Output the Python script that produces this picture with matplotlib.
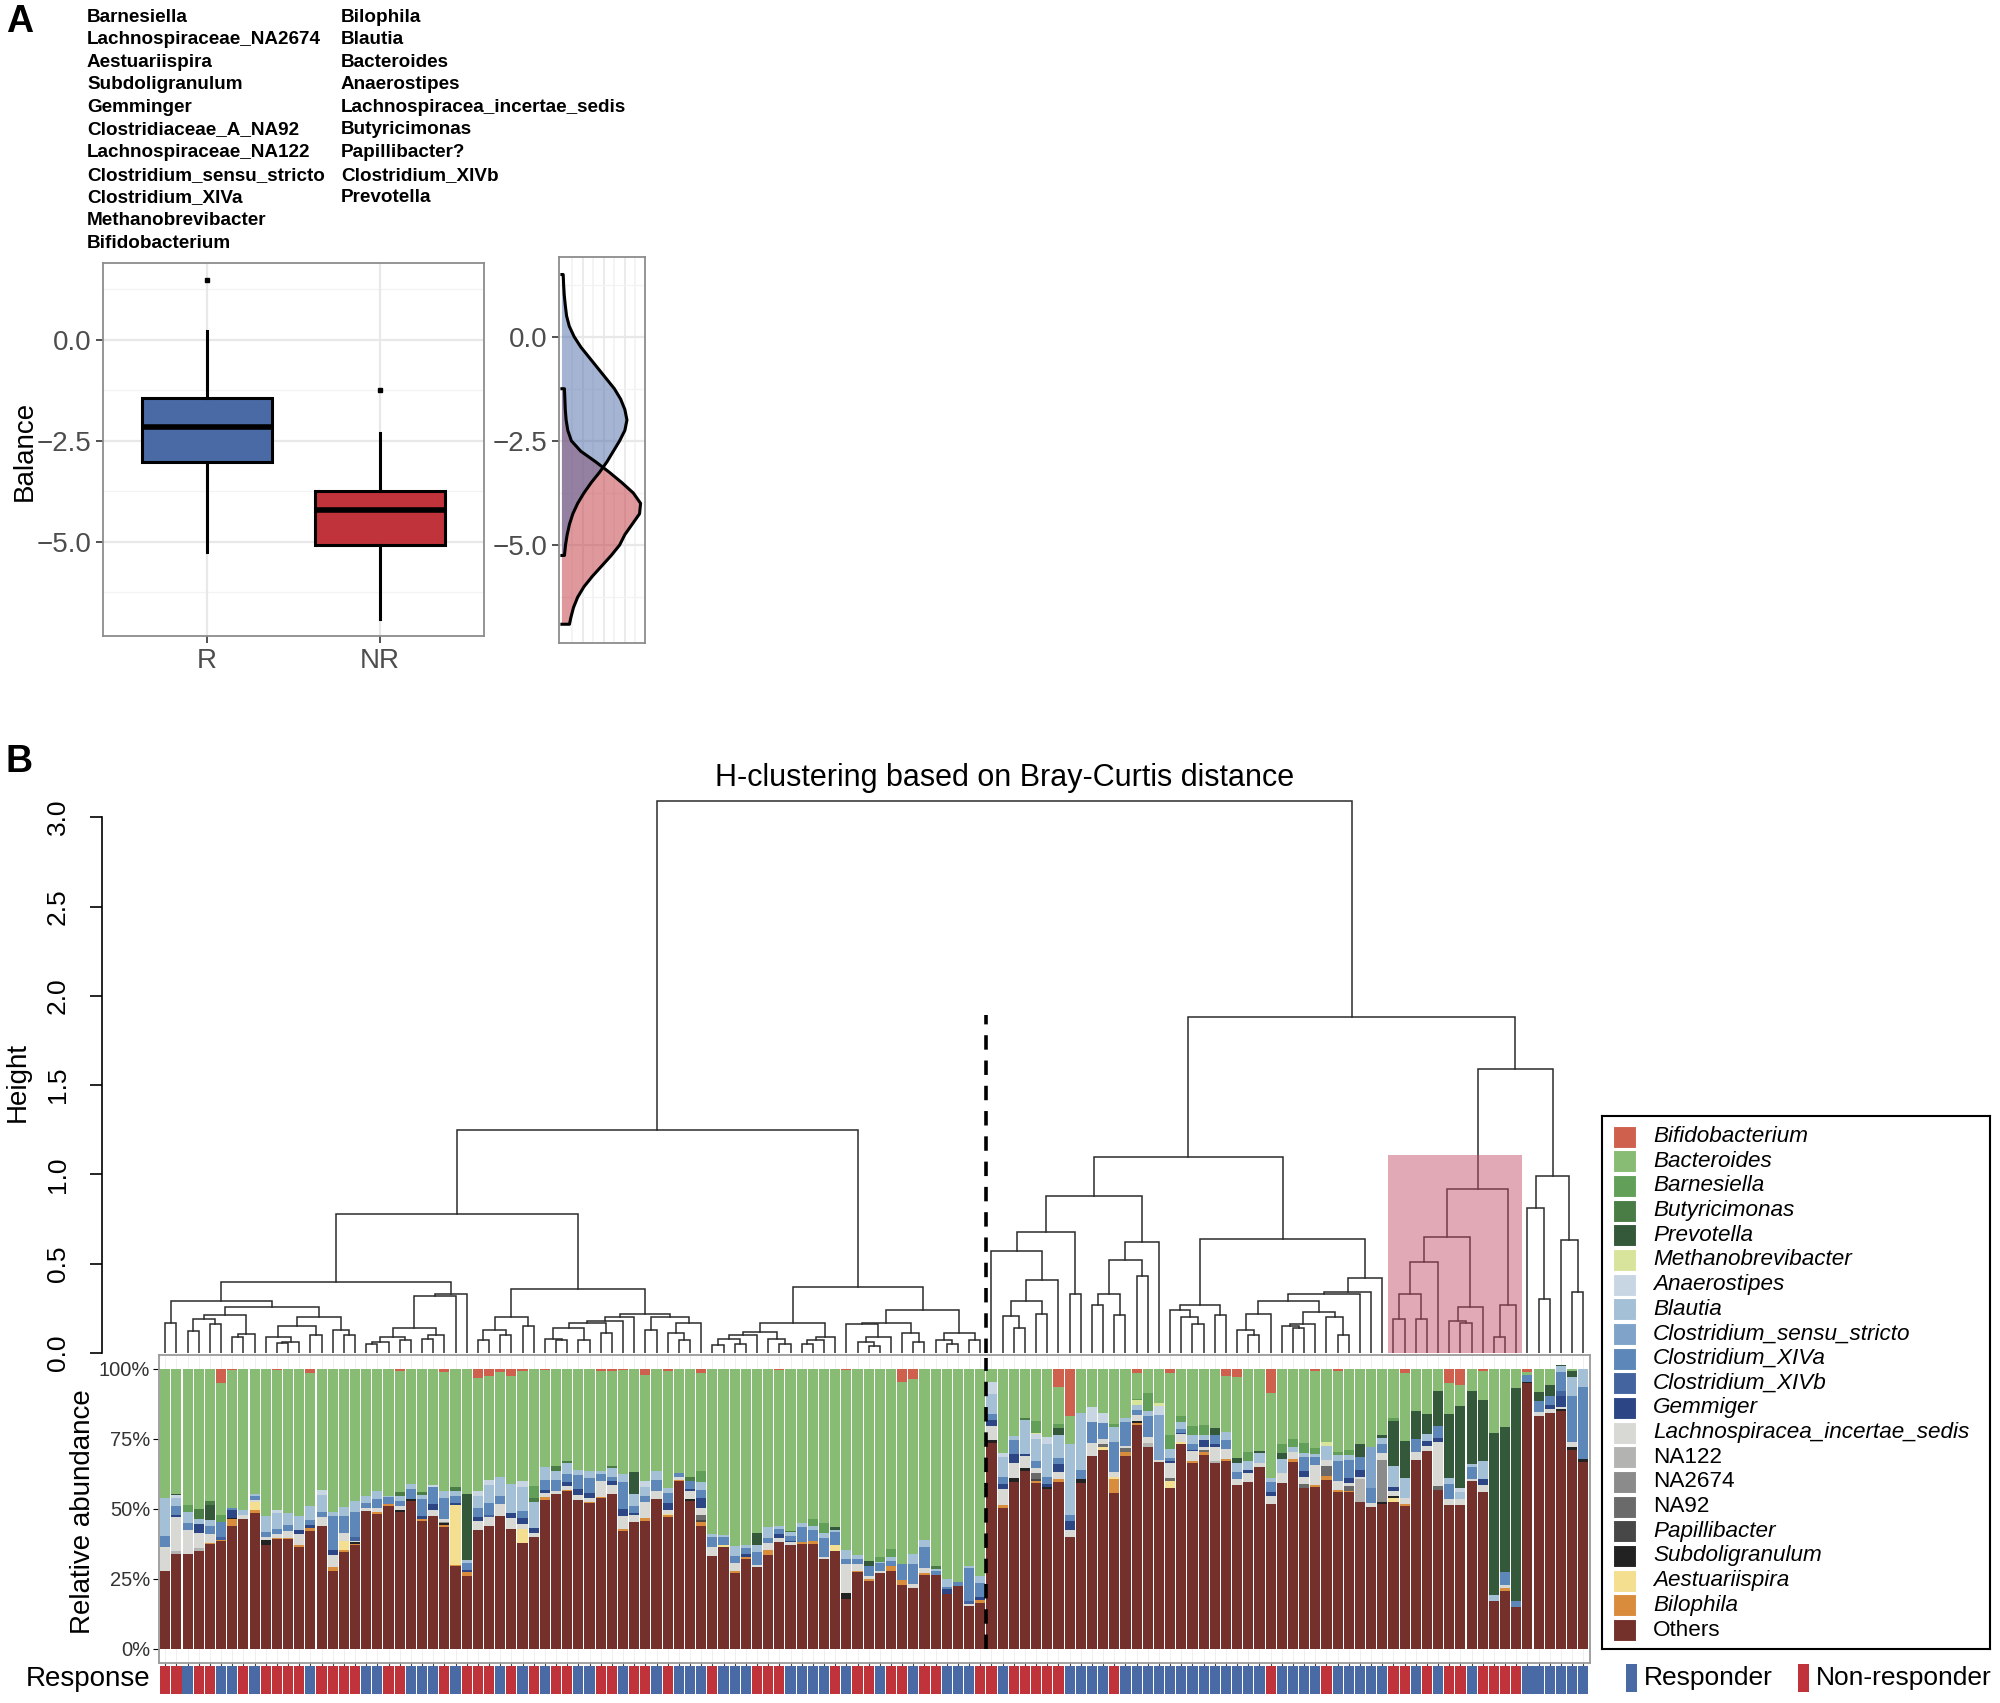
import numpy as np
import matplotlib
matplotlib.use("Agg")
import matplotlib.pyplot as plt
from matplotlib.patches import Rectangle

plt.rcParams["font.family"] = ["Liberation Sans", "DejaVu Sans"]

W, H = 2000, 1703

# ---------------- panel A data ----------------
balance_num = ["Barnesiella", "Lachnospiraceae_NA2674", "Aestuariispira", "Subdoligranulum",
               "Gemminger", "Clostridiaceae_A_NA92", "Lachnospiraceae_NA122",
               "Clostridium_sensu_stricto", "Clostridium_XIVa", "Methanobrevibacter",
               "Bifidobacterium"]
balance_den = ["Bilophila", "Blautia", "Bacteroides", "Anaerostipes",
               "Lachnospiracea_incertae_sedis", "Butyricimonas", "Papillibacter?",
               "Clostridium_XIVb", "Prevotella"]

groups = ["R", "NR"]
box_med = [-2.16, -4.22]
box_q1 = [-3.02, -5.09]
box_q3 = [-1.44, -3.75]
whisk_lo = [-5.25, -6.9]
whisk_hi = [0.21, -2.31]
outliers = [[1.49], [-1.25]]

dens_r_y = [1.49, 1.25, 1.0, 0.75, 0.5, 0.25, 0.0, -0.25, -0.5, -0.75, -1.0, -1.25, -1.5,
            -1.75, -2.0, -2.25, -2.5, -2.75, -3.0, -3.25, -3.5, -3.75, -4.0, -4.25, -4.5,
            -4.75, -5.0, -5.25]
dens_r = [0.006, 0.008, 0.011, 0.016, 0.022, 0.035, 0.058, 0.09, 0.13, 0.17, 0.21, 0.25, 0.28,
          0.30, 0.31, 0.30, 0.275, 0.245, 0.215, 0.18, 0.14, 0.105, 0.075, 0.052, 0.036,
          0.025, 0.017, 0.012]
dens_nr_y = [-1.25, -1.5, -1.75, -2.0, -2.25, -2.5, -2.75, -3.0, -3.25, -3.5, -3.75, -4.0,
             -4.25, -4.5, -4.75, -5.0, -5.25, -5.5, -5.75, -6.0, -6.25, -6.5, -6.75, -6.9]
dens_nr = [0.012, 0.014, 0.016, 0.02, 0.028, 0.045, 0.09, 0.16, 0.225, 0.285, 0.34, 0.375,
           0.37, 0.335, 0.30, 0.275, 0.235, 0.19, 0.145, 0.105, 0.075, 0.055, 0.042, 0.036]

# ---------------- panel B data ----------------
N = 128
# 1 = Responder, 0 = Non-responder
response = [0, 0, 1, 0, 0, 1, 1, 0, 1, 0, 0, 0, 0, 1, 0, 0,
            0, 0, 1, 1, 0, 0, 1, 1, 1, 0, 1, 0, 0, 0, 1, 0,
            1, 0, 1, 0, 0, 1, 1, 0, 0, 1, 0, 0, 1, 0, 1, 1,
            1, 0, 1, 1, 1, 0, 0, 0, 1, 1, 1, 1, 0, 1, 0, 0,
            1, 0, 0, 1, 0, 0, 1, 1, 1, 0, 0, 1, 0, 0, 0, 0,
            0, 1, 1, 1, 1, 0, 1, 1, 1, 1, 1, 1, 1, 1, 1, 1,
            1, 1, 1, 0, 1, 1, 1, 1, 0, 1, 1, 1, 1, 1, 0, 0,
            1, 0, 1, 0, 0, 1, 0, 0, 0, 0, 1, 1, 1, 1, 1, 1]

others = [28, 34, 34, 35, 37.5, 38.5, 44, 46.4, 48.5, 37, 39.3, 39.3, 36.5, 42, 43.8, 27.7,
          34.8, 37, 49.4, 48.2, 51.2, 48.8, 53, 45.6, 47.6, 43.5, 29.6, 26.2, 42.6, 44, 47.4, 42.9,
          37.9, 40.1, 53.2, 55.4, 56.3, 53.2, 52, 53.9, 55.4, 42.3, 45.5, 45.8, 53.6, 47, 59.9, 52.7,
          44, 33.1, 36.5, 27, 32.1, 29.4, 33.7, 38.3, 37.1, 37.5, 37.5, 32.1, 34.9, 17.9, 27.4, 24.2,
          27, 28, 22.9, 21.8, 26.5, 26.5, 19.6, 22.6, 15.2, 16.4, 73.6, 50.4, 59.5, 63.5, 59.2, 57.1,
          59.8, 40.1, 59.2, 68.8, 71.1, 55.6, 69, 80.1, 72, 66.7, 57.5, 73.2, 66.3, 69.4, 66.3, 67.3,
          58.7, 59.5, 65.1, 51.8, 59.2, 66.9, 57.5, 58, 60.4, 56, 56, 52.4, 50.6, 51.8, 52.4, 51.2,
          67.5, 70.6, 56.8, 51.5, 51.5, 59.9, 56, 17, 20.8, 15.1, 94.9, 83.3, 84.2, 84.9, 71.1, 66.7]

lachno = [8.5, 12, 8.5, 5.4, 3.2, 0, 0, 1.5, 0.8, 1, 1.4, 2.6, 3.8, 0, 3.4, 4.3,
          3, 0.6, 1, 1.5, 0, 1.5, 0, 0, 2.1, 1, 0, 0, 3.2, 3.2, 4.4, 3.9,
          1.8, 1.5, 1.2, 1.2, 1.5, 1.9, 1.4, 5.5, 3, 4.6, 2.5, 5.6, 3, 1.4, 1.2, 3,
          2.4, 3.2, 0, 2.6, 0, 0.7, 2.3, 1.3, 1, 0, 0, 0.8, 0, 10.5, 2.3, 1.2,
          1, 0, 0, 1.4, 1.9, 0, 0, 0, 1, 0, 5.1, 5.6, 5.6, 4.5, 2, 0,
          2.4, 2.4, 0, 4.6, 1.8, 1.8, 0.8, 1.8, 2.4, 0.8, 5.2, 2.7, 3.3, 1.2, 5, 3.6,
          2, 3.2, 1.2, 2.7, 3.8, 2.5, 2.7, 7.1, 2, 3.3, 1.2, 0.8, 1.4, 2.4, 2, 2.4,
          2.7, 2, 15.8, 2, 2, 0.8, 2.7, 0, 1.2, 0, 0, 1.2, 1.5, 0.6, 1.5, 0]

xiva = [4, 3, 2.4, 0, 3, 5.4, 0.7, 0, 1.2, 1.8, 1.8, 2, 0, 1.8, 1.9, 12,
        6, 9, 1.7, 3.2, 2.4, 1.8, 3.6, 6, 6.2, 7.7, 2.4, 2.4, 3.1, 4.3, 3, 0,
        2.6, 0, 3.6, 3.6, 3, 5.1, 5.2, 2.6, 1.7, 9.5, 2.4, 2.4, 3.8, 3.6, 1.4, 3,
        3, 3.6, 3, 2.6, 1.8, 4.4, 1.9, 1.8, 1.8, 5.4, 4, 6.7, 4.5, 1.8, 1.8, 3.6,
        2.6, 1.8, 5.7, 7.1, 7.4, 1.4, 0.8, 1.2, 11.7, 5, 2.4, 2.6, 5, 0, 2.4, 2.6,
        2.4, 2.4, 3.3, 7.5, 5.5, 10.7, 8.7, 1.8, 7.4, 0, 1, 1.2, 2.1, 0, 3, 3,
        2.4, 0, 0, 3.8, 0, 0, 4.8, 3, 0, 7.1, 6.5, 4.5, 5.5, 3.3, 0, 0,
        4.8, 0, 4.4, 5.6, 0, 4.2, 0, 0, 4.4, 2.1, 2.4, 4.2, 3.3, 7.1, 16.7, 25.8]

blautia = [13.5, 3, 4, 2, 1.8, 0, 0, 1.7, 1, 5.6, 5.6, 4.4, 5, 5, 6, 1.5,
           3, 4, 2.7, 3, 0.6, 1.8, 1.8, 1.7, 0, 2.4, 1.8, 1.2, 4.4, 6.2, 6.8, 10.5,
           8.6, 9.5, 4.5, 3.3, 3.8, 1.7, 2.4, 1.2, 3.1, 3, 4.5, 3.2, 3.3, 1.8, 0, 0,
           3, 1, 0.7, 3.6, 1.2, 2.7, 3.8, 1.2, 1.2, 1.2, 1.5, 1.7, 0.6, 3.2, 1.5, 0,
           0.4, 1.2, 0, 3.8, 2.6, 0.6, 2.7, 0, 0.6, 2.7, 6.9, 7.1, 1.5, 11.9, 7.9, 11.7,
           8, 25.2, 20.2, 0, 0, 5.4, 1.4, 1.8, 1.8, 0, 3.2, 2.4, 3.3, 1.9, 0, 3,
           3.2, 3.3, 3.6, 1.2, 5, 2, 1.5, 1.2, 5.1, 2, 1.8, 0, 0, 2.1, 7.4, 6.8,
           0, 2.4, 0, 1.9, 2.4, 1.2, 6.5, 2.4, 0, 0, 0, 0, 0, 1.8, 6.5, 6.5]

# sparse genera: {sample index: percent}
sensu = {89: 16.2, 108: 14.8}
xivb = {5: 1.0, 17: 1.2, 29: 0.8, 72: 1.0, 125: 1.5}
gemmiger = {1: 1, 3: 3.2, 6: 2.6, 12: 1.4, 13: 1.2, 15: 1.7, 23: 1, 24: 2, 26: 0.8, 27: 0.8,
            28: 1.4, 31: 1.7, 32: 2.1, 33: 1.5, 34: 1.2, 36: 1.2, 37: 2, 38: 1.9, 40: 1.5,
            41: 2.4, 42: 0.5, 45: 2.4, 47: 0.6, 48: 3.6, 52: 1.2, 55: 1.4, 56: 0.6, 70: 1.8,
            73: 1, 74: 2, 75: 1.8, 76: 3, 77: 0.8, 79: 1, 80: 2.7, 81: 3.1, 90: 1, 91: 0.6,
            92: 0.5, 93: 2.4, 94: 1, 97: 1.2, 99: 1.5, 102: 2, 106: 1.5, 107: 2.4, 110: 1.5,
            113: 1.8, 114: 1.2, 118: 2, 124: 1.4, 125: 4.2}
anaerostipes = {1: 1, 10: 1, 14: 1.7, 24: 0.7, 28: 1.8, 29: 1.8, 32: 2.1, 43: 2, 74: 4.2,
                75: 1.2, 78: 1.7, 79: 2.6, 83: 5.4, 84: 3.8, 89: 3.2, 116: 1.5}
methano = {78: 0.4, 87: 1.8, 89: 0.8, 104: 1.2}
prevotella = {1: 0.4, 4: 5.4, 27: 23.6, 42: 7.7, 53: 4.2, 60: 1.2, 63: 1.8, 80: 2.7, 94: 2.6,
              96: 1.9, 98: 0.7, 100: 1.9, 107: 4.8, 109: 1.2, 110: 16, 111: 13.5, 112: 10,
              113: 7.1, 114: 12.5, 115: 22.9, 116: 29.5, 117: 26, 118: 21.7, 119: 57.7,
              120: 51.8, 121: 76, 123: 3, 124: 3.8, 125: 0.6, 126: 2.4}
butyricimonas = {3: 3.5, 4: 1.4, 21: 1.2, 23: 1, 26: 1.4, 33: 1.4, 35: 2, 36: 0.8, 40: 0.8,
                 47: 1.2, 56: 0.6, 69: 1.2, 77: 0.7}
barnesiella = {2: 2.6, 5: 2.5, 33: 4.2, 48: 3.6, 58: 2.4, 59: 3.6, 64: 1.8, 65: 3, 78: 4.2,
               80: 1.2, 85: 1.2, 87: 0.6, 88: 6.5, 90: 4.8, 91: 2.4, 92: 3, 93: 3.6, 97: 3,
               100: 3.2, 101: 2.7, 102: 3.6, 103: 2, 105: 1.2, 106: 2, 110: 1.2}
bifido = {5: 5, 6: 0.4, 10: 0.4, 13: 1.5, 21: 0.8, 25: 1, 28: 3.2, 29: 2.4, 30: 1.2, 31: 2.4,
          32: 0.8, 34: 0.4, 39: 0.6, 40: 0.6, 41: 0.4, 43: 2, 45: 0.8, 48: 1.5, 55: 0.4,
          61: 0.3, 66: 4.8, 67: 3.6, 80: 6.3, 81: 16.7, 87: 1.4, 90: 1.5, 95: 2.4, 96: 2.7,
          99: 8.7, 103: 0.8, 105: 0.8, 111: 1.5, 115: 5.1, 116: 5.6, 118: 0.8, 122: 1.2}
bilophila = {4: 0.4, 5: 0.5, 6: 2.4, 8: 1, 10: 0.4, 11: 0.4, 12: 0.7, 13: 1.2, 15: 1.7,
             16: 0.5, 17: 0.5, 19: 0.6, 20: 0.6, 23: 0.8, 25: 0.7, 26: 0.4, 27: 1.2, 34: 1.2,
             36: 0.5, 38: 0.5, 39: 0.5, 41: 0.7, 43: 1, 45: 0.8, 46: 0.4, 48: 1.2, 51: 1,
             52: 0.8, 54: 1.8, 57: 0.8, 58: 1, 62: 0.5, 63: 0.8, 65: 1.8, 66: 1.8, 68: 0.5,
             73: 1, 75: 1.2, 78: 0.7, 80: 1, 85: 5.1, 86: 1.2, 87: 0.5, 92: 1, 93: 0.8,
             95: 0.6, 101: 0.8, 103: 0.5, 104: 1.5, 105: 0.8, 106: 0.5, 111: 0.5, 120: 1}
aestuariispira = {8: 3, 16: 3.3, 26: 21.5, 32: 5, 45: 0.4, 50: 0.6, 60: 2.4, 84: 1, 85: 0.6,
                  90: 2.6, 91: 0.8, 110: 1.4}
subdoli = {6: 0.5, 9: 2, 17: 0.6, 21: 0.8, 22: 0.5, 25: 0.7, 47: 0.8, 61: 2, 74: 1, 76: 1.5,
           77: 1, 79: 0.8, 82: 1.5, 87: 1, 109: 0.6, 110: 0.7, 122: 0.4, 125: 0.8, 126: 1.2,
           127: 1}
papillibacter = {48: 0.8, 78: 0.8}
na92 = {48: 1.8, 78: 2, 84: 1.2, 86: 1.5, 90: 1, 93: 0.8, 102: 1.4, 104: 3.6, 106: 1.7, 114: 1.5}
na2674 = {25: 0.5, 109: 15.1}
na122 = {1: 1, 3: 1, 88: 1.4, 94: 1, 107: 8.3}

# legend order (top of the stack first)
genera = ["Bifidobacterium", "Bacteroides", "Barnesiella", "Butyricimonas", "Prevotella",
          "Methanobrevibacter", "Anaerostipes", "Blautia", "Clostridium_sensu_stricto",
          "Clostridium_XIVa", "Clostridium_XIVb", "Gemmiger", "Lachnospiracea_incertae_sedis",
          "NA122", "NA2674", "NA92", "Papillibacter", "Subdoligranulum", "Aestuariispira",
          "Bilophila", "Others"]
genus_colors = ["#d0604e", "#88bb74", "#62a05a", "#4a7d46", "#33583a", "#d8e49c", "#c8d6e4",
                "#a4c0d7", "#7fa3c9", "#5c87b8", "#43649e", "#2c4585", "#d8d8d4", "#b3b3b1",
                "#8b8b8b", "#6a6a6a", "#474747", "#222222", "#f3df8f", "#d98c3c", "#74302a"]
upright = {"NA122", "NA2674", "NA92", "Others"}

# dendrogram: (height, left, right); ints are sample positions
A = (0.17, 0, 1)
BC = (0.19, (0.125, 2, 3), (0.165, 4, 5))
D = (0.105, (0.09, 6, 7), 8)
E = (0.20, (0.15, (0.09, 9, (0.06, (0.055, 10, 11), 12)), (0.10, 13, 14)),
     (0.13, 15, (0.10, 16, 17)))
F = (0.09, (0.06, (0.05, 18, 19), 20), (0.07, 21, 22))
G = (0.10, (0.08, 23, 24), 25)
L1 = (0.40, (0.29, A, (0.26, (0.21, BC, D), E)), (0.33, (0.32, (0.14, F, G), 26), 27))
M1 = (0.20, (0.13, (0.07, 28, 29), (0.10, 30, 31)), (0.15, 32, 33))
M2a = (0.14, (0.08, 34, (0.07, 35, 36)), (0.07, 37, 38))
M2d = (0.20, (0.18, (0.17, M2a, (0.11, 39, 40)), 41), 42)
M2e = (0.20, (0.13, 43, 44), (0.17, (0.11, 45, (0.07, 46, 47)), 48))
L2 = (0.36, M1, (0.22, M2d, M2e))
NN = (0.17, (0.115, (0.10, (0.08, (0.045, 49, 50), (0.05, 51, 52)), 53), (0.08, 54, (0.05, 55, 56))),
      (0.09, (0.07, (0.05, 57, 58), 59), 60))
OO = (0.24, (0.17, (0.16, 61, (0.09, (0.06, 62, (0.04, 63, 64)), 65)), (0.11, 66, (0.06, 67, 68))),
      (0.11, (0.07, 69, (0.05, 70, 71)), (0.07, 72, 73)))
LEFT = (1.25, (0.78, L1, L2), (0.37, NN, OO))
P = (0.68, (0.57, 74, (0.41, (0.29, (0.205, 75, (0.14, 76, 77)), (0.22, 78, 79)), 80)),
     (0.33, 81, 82))
Q = (0.62, (0.52, (0.33, (0.27, 83, 84), (0.21, 85, 86)), (0.43, 87, 88)), 89)
R1 = (0.27, (0.24, 90, (0.20, 91, (0.16, 92, 93))), (0.21, 94, 95))
R2a = (0.22, (0.13, 96, (0.10, 97, 98)), 99)
R2b = (0.23, (0.16, (0.15, 100, (0.14, 101, 102)), 103), (0.20, 104, (0.10, 105, 106)))
R2 = (0.42, (0.34, (0.33, (0.29, R2a, R2b), 107), 108), 109)
S = (0.92, (0.65, (0.51, (0.33, (0.19, 110, 111), (0.19, 112, 113)), 114),
            (0.26, (0.18, 115, (0.17, 116, 117)), 118)),
     (0.27, (0.09, 119, 120), 121))
T = (0.99, (0.81, 122, (0.30, 123, 124)), (0.63, 125, (0.34, 126, 127)))
RIGHT = (1.88, (1.10, (0.88, P, Q), (0.64, R1, R2)), (1.59, S, T))
TREE = (3.09, LEFT, RIGHT)

highlight_leaves = (109.5, 121.5)
highlight_height = 1.11
cut_position = 73.5
cut_height = 1.89

BLUE = "#4a6aa6"
RED = "#c1333b"


def dense(d):
    a = np.zeros(N)
    for k, v in d.items():
        a[k] = v
    return a


def px_axes(fig, x0, y0, x1, y1):
    return fig.add_axes([x0 / W, 1 - y1 / H, (x1 - x0) / W, (y1 - y0) / H])


def ftext(fig, x, y, s, **kw):
    return fig.text(x / W, 1 - y / H, s, **kw)


def draw_node(ax, node):
    if not isinstance(node, tuple):
        return float(node), 0.0
    h, a, b = node
    xa, ha = draw_node(ax, a)
    xb, hb = draw_node(ax, b)
    ax.plot([xa, xa, xb, xb], [ha, h, h, hb], color="#2b2b2b", lw=1.1,
            solid_joinstyle="miter", zorder=2)
    return (xa + xb) / 2.0, h


fig = plt.figure(figsize=(20, 17.03), dpi=100)
fig.patch.set_facecolor("white")

# ---------------- panel A ----------------
ftext(fig, 6, 22, "A", fontsize=27, fontweight="bold", ha="left", va="center")
for k, s in enumerate(balance_num):
    ftext(fig, 87, 17 + 22.6 * k, s, fontsize=13.6, fontweight="bold", ha="left", va="center")
for k, s in enumerate(balance_den):
    ftext(fig, 341, 17 + 22.6 * k, s, fontsize=13.6, fontweight="bold", ha="left", va="center")

axb = px_axes(fig, 103, 263, 484, 636)
axb.set_xlim(0.4, 2.6)
axb.set_ylim(-7.33, 1.9)
for y in [1.25, -1.25, -3.75, -6.25]:
    axb.axhline(y, color="#f3f3f3", lw=0.9, zorder=0)
for y in [0, -2.5, -5]:
    axb.axhline(y, color="#e8e8e8", lw=1.6, zorder=0)
for x in [1, 2]:
    axb.axvline(x, color="#e8e8e8", lw=1.6, zorder=0)
stats = []
for i in range(2):
    stats.append(dict(med=box_med[i], q1=box_q1[i], q3=box_q3[i], whislo=whisk_lo[i],
                      whishi=whisk_hi[i], fliers=outliers[i]))
bp = axb.bxp(stats, positions=[1, 2], widths=0.75, patch_artist=True, showcaps=False,
             boxprops=dict(lw=2.2, edgecolor="black"),
             medianprops=dict(color="black", lw=4),
             whiskerprops=dict(lw=2.2, color="black"),
             flierprops=dict(marker="s", markersize=3.5, markerfacecolor="black",
                             markeredgecolor="black"))
for patch, c in zip(bp["boxes"], [BLUE, RED]):
    patch.set_facecolor(c)
axb.set_xticks([1, 2])
axb.set_xticklabels(groups)
axb.set_yticks([0, -2.5, -5])
axb.set_yticklabels(["0.0", "\u22122.5", "\u22125.0"])
axb.tick_params(labelsize=20, labelcolor="#4d4d4d", color="#333333", length=5, width=1.2)
for sp in axb.spines.values():
    sp.set_color("#8c8c8c")
    sp.set_linewidth(1.3)
ftext(fig, 25, 451, "Balance", fontsize=20, rotation=90, ha="center", va="center")

axd = px_axes(fig, 559, 257, 645, 643)
axd.set_xlim(-0.014, 0.396)
axd.set_ylim(-7.35, 1.91)
for x in np.arange(0.05, 0.39, 0.05):
    axd.axvline(x, color="#e6e6e6" if round(x * 20) % 2 == 0 else "#f1f1f1", lw=1.1, zorder=0)
for y in [1.25, -1.25, -3.75, -6.25]:
    axd.axhline(y, color="#f3f3f3", lw=0.9, zorder=0)
for y in [0, -2.5, -5]:
    axd.axhline(y, color="#e8e8e8", lw=1.6, zorder=0)
axd.fill(np.r_[0, dens_nr, 0], np.r_[dens_nr_y[0], dens_nr_y, dens_nr_y[-1]],
         facecolor=RED, alpha=0.5, edgecolor="none", zorder=2)
axd.fill(np.r_[0, dens_r, 0], np.r_[dens_r_y[0], dens_r_y, dens_r_y[-1]],
         facecolor=BLUE, alpha=0.5, edgecolor="none", zorder=3)
axd.plot(np.r_[0, dens_nr, 0], np.r_[dens_nr_y[0], dens_nr_y, dens_nr_y[-1]],
         color="black", lw=2.2, zorder=4)
axd.plot(np.r_[0, dens_r, 0], np.r_[dens_r_y[0], dens_r_y, dens_r_y[-1]],
         color="black", lw=2.2, zorder=4)
axd.set_xticks([])
axd.set_yticks([0, -2.5, -5])
axd.set_yticklabels(["0.0", "\u22122.5", "\u22125.0"])
axd.tick_params(labelsize=20, labelcolor="#4d4d4d", color="#333333", length=5, width=1.2)
for sp in axd.spines.values():
    sp.set_color("#8c8c8c")
    sp.set_linewidth(1.3)

# ---------------- panel B ----------------
ftext(fig, 6, 762, "B", fontsize=27, fontweight="bold", ha="left", va="center")
ftext(fig, 1005, 778, "H-clustering based on Bray-Curtis distance", fontsize=22,
      ha="center", va="center")

x_left = -0.6 - (158.5 - 102) / 11.166
axt = px_axes(fig, 102, 780, 1590, 1353)
axt.set_xlim(x_left, N - 0.4)
axt.set_ylim(0, (1353 - 780) / 178.6)
draw_node(axt, TREE)
axt.add_patch(Rectangle((highlight_leaves[0], 0), highlight_leaves[1] - highlight_leaves[0],
                        highlight_height, facecolor="#c14b66", alpha=0.48, lw=0, zorder=3))
axt.plot([cut_position, cut_position], [0, cut_height], color="black", lw=2.6,
         dashes=(4, 3), zorder=4)
for s in ["top", "right", "bottom"]:
    axt.spines[s].set_visible(False)
axt.spines["left"].set_bounds(0, 3)
axt.spines["left"].set_linewidth(1.2)
axt.set_xticks([])
axt.set_yticks(np.arange(0, 3.01, 0.5))
axt.set_yticklabels(["%.1f" % v for v in np.arange(0, 3.01, 0.5)])
axt.tick_params(axis="y", length=9, width=1.2, labelsize=19, rotation=90, pad=14)
for lab in axt.get_yticklabels():
    lab.set_verticalalignment("center")
ftext(fig, 18, 1082, "Height", fontsize=20, rotation=90, ha="center", va="center")

# stacked bars
layers = {
    "Others": np.array(others, float),
    "Bilophila": dense(bilophila),
    "Aestuariispira": dense(aestuariispira),
    "Subdoligranulum": dense(subdoli),
    "Papillibacter": dense(papillibacter),
    "NA92": dense(na92),
    "NA2674": dense(na2674),
    "NA122": dense(na122),
    "Lachnospiracea_incertae_sedis": np.array(lachno, float),
    "Gemmiger": dense(gemmiger),
    "Clostridium_XIVb": dense(xivb),
    "Clostridium_XIVa": np.array(xiva, float),
    "Clostridium_sensu_stricto": dense(sensu),
    "Blautia": np.array(blautia, float),
    "Anaerostipes": dense(anaerostipes),
    "Methanobrevibacter": dense(methano),
    "Prevotella": dense(prevotella),
    "Butyricimonas": dense(butyricimonas),
    "Barnesiella": dense(barnesiella),
    "Bifidobacterium": dense(bifido),
}
total = sum(layers.values())
layers["Bacteroides"] = np.clip(100 - total, 0, None)
color_of = dict(zip(genera, genus_colors))

axs = px_axes(fig, 158.5, 1355, 1590, 1663)
axs.set_xlim(-0.6, N - 0.4)
axs.set_ylim(-5, 105)
pos = np.arange(N)
for x in pos:
    axs.axvline(x, color="#ececec", lw=0.6, zorder=0)
bottom = np.zeros(N)
for g in reversed(genera):
    vals = layers[g]
    axs.bar(pos, vals, bottom=bottom, width=0.9, color=color_of[g], lw=0, zorder=2)
    bottom = bottom + vals
axs.plot([cut_position, cut_position], [0, 104], color="black", lw=2.6, dashes=(4, 3), zorder=5)
axs.set_yticks([0, 25, 50, 75, 100])
axs.set_yticklabels(["0%", "25%", "50%", "75%", "100%"])
axs.set_xticks(pos)
axs.tick_params(axis="x", length=3.5, width=0.8, color="#444444", labelbottom=False)
axs.tick_params(axis="y", length=4, width=0.8, labelsize=14.5, labelcolor="#333333", pad=2)
for sp in axs.spines.values():
    sp.set_color("#9a9a9a")
    sp.set_linewidth(1.3)
ftext(fig, 83, 1512, "Relative abundance", fontsize=20, rotation=90, ha="center", va="center")

# response strip
axr = px_axes(fig, 158.5, 1666, 1590, 1694)
axr.set_xlim(-0.6, N - 0.4)
axr.set_ylim(0, 1)
axr.bar(pos, np.ones(N), width=0.92, color=[BLUE if r else RED for r in response], lw=0)
axr.axis("off")
ftext(fig, 150, 1679, "Response", fontsize=20, ha="right", va="center")

# legend
axl = px_axes(fig, 1602, 1116, 1990, 1649)
axl.set_xlim(0, 388)
axl.set_ylim(533, 0)
axl.set_xticks([])
axl.set_yticks([])
for sp in axl.spines.values():
    sp.set_color("black")
    sp.set_linewidth(1.5)
row_pitch = (514 - 20.5) / (len(genera) - 1)
for k, (g, c) in enumerate(zip(genera, genus_colors)):
    yc = 20.5 + row_pitch * k
    axl.add_patch(Rectangle((11, yc - 11), 23, 22, facecolor=c, edgecolor="white", lw=0.8))
    axl.text(51, yc, g, fontsize=16.2, va="center", ha="left",
             style="normal" if g in upright else "italic")

for x0, lab, c in [(1626, "Responder", BLUE), (1798, "Non-responder", RED)]:
    fig.patches.append(Rectangle((x0 / W, 1 - 1692 / H), 11 / W, 28 / H, facecolor=c,
                                 transform=fig.transFigure, figure=fig))
    ftext(fig, x0 + 18, 1678, lab, fontsize=19, ha="left", va="center")

fig.savefig("out.png", dpi=100)
